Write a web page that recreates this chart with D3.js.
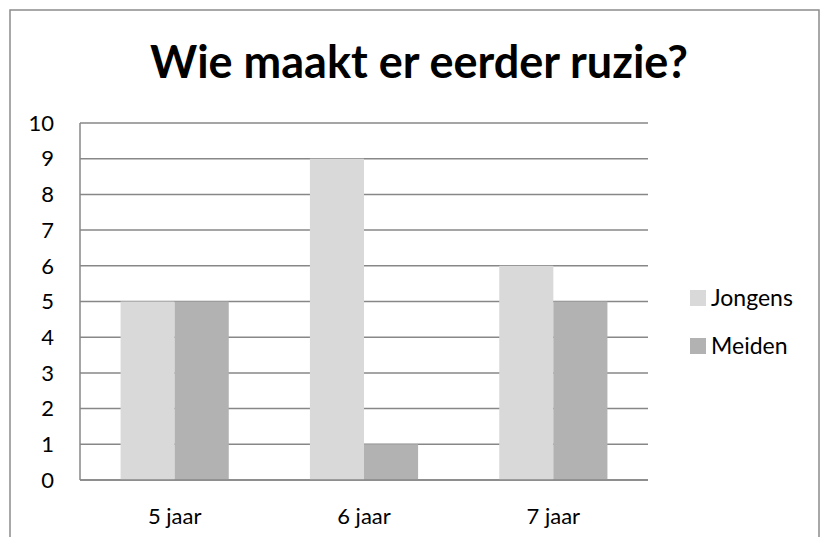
<!DOCTYPE html>
<html>
<head>
<meta charset="utf-8">
<script src="https://cdn.jsdelivr.net/npm/d3@7"></script>
<style>
  body { margin: 0; background: #fff; }
  text { font-family: Lato, "Open Sans", sans-serif; fill: #000; }
</style>
</head>
<body>
<div id="chart"></div>
<script>
const categories = ['5 jaar', '6 jaar', '7 jaar'];
const seriesNames = ['Jongens', 'Meiden'];
const jongens = [5, 9, 6];
const meiden = [5, 1, 5];
const yTicks = [0, 1, 2, 3, 4, 5, 6, 7, 8, 9, 10];
const colors = ['#d9d9d9', '#b2b2b2'];

const width = 820, height = 537;
const plot = { left: 80, right: 648, top: 123, bottom: 480 };

const svg = d3.select('#chart').append('svg')
  .attr('width', width)
  .attr('height', height);

// outer frame (bottom edge is cut off)
svg.append('path')
  .attr('d', 'M10,' + (height + 2) + 'V10H819V' + (height + 2))
  .attr('fill', 'none')
  .attr('stroke', '#8c8c8c')
  .attr('stroke-width', 1.5);

svg.append('text')
  .attr('x', 419)
  .attr('y', 78)
  .attr('text-anchor', 'middle')
  .style('font-size', '45px')
  .style('font-weight', 'bold')
  .text('Wie maakt er eerder ruzie?');

const x = d3.scaleBand()
  .domain(categories)
  .range([plot.left, plot.right]);

const xSeries = d3.scaleBand()
  .domain(seriesNames)
  .range([0, x.bandwidth()])
  .paddingInner(0)
  .paddingOuter(0.75);

const y = d3.scaleLinear()
  .domain([0, 10])
  .range([plot.bottom, plot.top]);

// gridlines
svg.append('g')
  .selectAll('line')
  .data(yTicks)
  .enter()
  .append('line')
  .attr('x1', plot.left)
  .attr('x2', plot.right)
  .attr('y1', d => y(d))
  .attr('y2', d => y(d))
  .attr('stroke', '#878787')
  .attr('stroke-width', 1.5);

// left axis line
svg.append('line')
  .attr('x1', plot.left).attr('x2', plot.left)
  .attr('y1', plot.top).attr('y2', plot.bottom)
  .attr('stroke', '#878787')
  .attr('stroke-width', 1.5);

const rows = categories.map((c, i) => ({ cat: c, values: [jongens[i], meiden[i]] }));

const groups = svg.append('g')
  .selectAll('g')
  .data(rows)
  .enter()
  .append('g')
  .attr('transform', d => 'translate(' + x(d.cat) + ',0)');

groups.selectAll('rect')
  .data(d => d.values.map((v, i) => ({ name: seriesNames[i], value: v, i: i })))
  .enter()
  .append('rect')
  .attr('x', d => xSeries(d.name))
  .attr('width', xSeries.bandwidth())
  .attr('y', d => y(d.value))
  .attr('height', d => y(0) - y(d.value))
  .attr('fill', d => colors[d.i]);

// baseline drawn over the bars
svg.append('line')
  .attr('x1', plot.left).attr('x2', plot.right)
  .attr('y1', y(0)).attr('y2', y(0))
  .attr('stroke', '#878787')
  .attr('stroke-width', 1.5);

// y labels
svg.append('g')
  .selectAll('text')
  .data(yTicks)
  .enter()
  .append('text')
  .attr('x', 54)
  .attr('y', d => y(d))
  .attr('dy', '0.35em')
  .attr('text-anchor', 'end')
  .style('font-size', '22px')
  .text(d => d);

// x labels
svg.append('g')
  .selectAll('text')
  .data(categories)
  .enter()
  .append('text')
  .attr('x', d => x(d) + x.bandwidth() / 2)
  .attr('y', 524)
  .attr('text-anchor', 'middle')
  .style('font-size', '22px')
  .text(d => d);

// legend
const legend = svg.append('g')
  .selectAll('g')
  .data(seriesNames)
  .enter()
  .append('g')
  .attr('transform', (d, i) => 'translate(690,' + (290 + i * 48) + ')');

legend.append('rect')
  .attr('width', 16)
  .attr('height', 16)
  .attr('fill', (d, i) => colors[i]);

legend.append('text')
  .attr('x', 21)
  .attr('y', 16)
  .style('font-size', '23px')
  .text(d => d);
</script>
</body>
</html>
